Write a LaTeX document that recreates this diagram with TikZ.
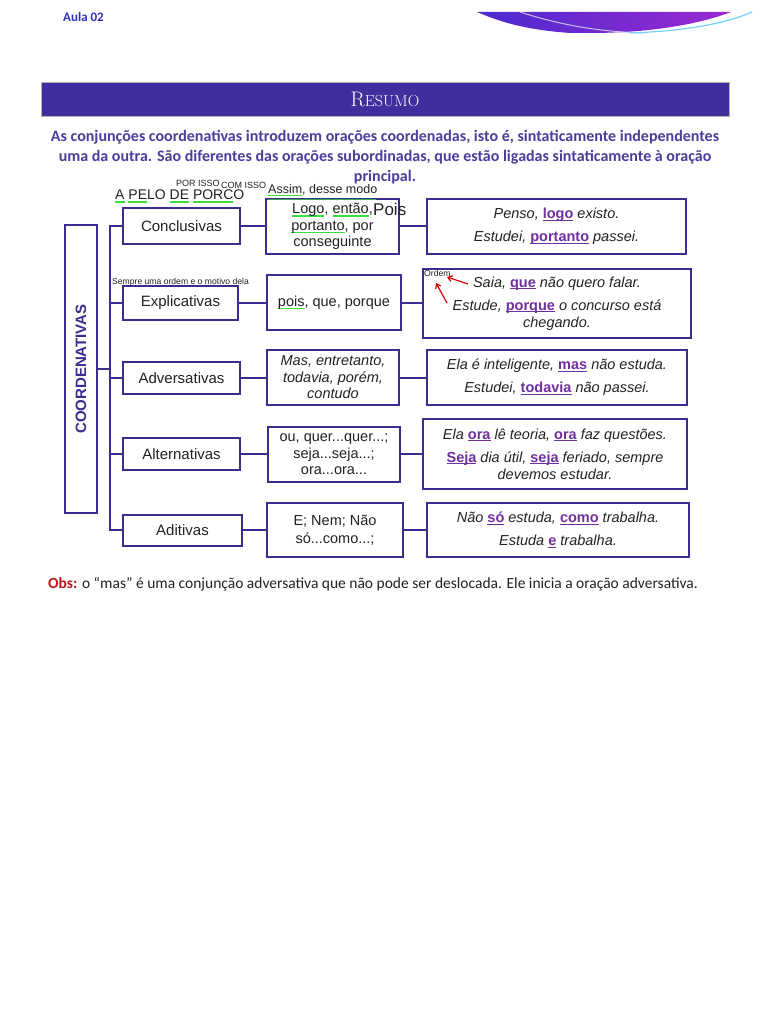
\documentclass[tikz,border=0pt]{standalone}
\usepackage{fontspec}
\setsansfont{Liberation Sans}
\newfontfamily\carl{Carlito}
\usetikzlibrary{arrows.meta}
\definecolor{lc}{HTML}{3B2C8E}
\definecolor{ban}{HTML}{3F2E9E}
\definecolor{intro}{HTML}{4E3B9C}
\definecolor{kwc}{HTML}{7030A0}
\definecolor{grn}{HTML}{3CDC3C}
\definecolor{obsred}{HTML}{C0141E}
\definecolor{aula}{HTML}{2F2FBF}
\definecolor{swl}{HTML}{4A2AD0}
\definecolor{swr}{HTML}{9A2AD0}
\definecolor{txt}{HTML}{222222}
\newsavebox\kwbox
\newsavebox\gulbox
\newcommand{\kw}[1]{\sbox\kwbox{\color{kwc}\bfseries\upshape #1}\rlap{\textcolor{kwc}{\rule[-2.2pt]{\wd\kwbox}{1pt}}}\usebox\kwbox}
\newcommand{\gul}[1]{\sbox\gulbox{#1}\rlap{\textcolor{grn}{\rule[-3pt]{\wd\gulbox}{1.6pt}}}\usebox\gulbox}
\begin{document}
\begin{tikzpicture}[x=1pt,y=-1pt,
  every node/.style={font=\sffamily,text=txt},
  frame/.style={draw=lc,line width=2pt,inner sep=0pt,align=center,fill=white},
  catbox/.style={frame,font=\sffamily\fontsize{15}{18}\selectfont},
  midbox/.style={frame,font=\sffamily\fontsize{14.5}{16.5}\selectfont},
  exbox/.style={frame,font=\sffamily\itshape\fontsize{14.5}{17}\selectfont},
  conn/.style={draw=lc,line width=2pt},
  note/.style={inner sep=0pt,anchor=base west},
  redarr/.style={draw=red!85!black,line width=1.2pt,-{Straight Barb[length=4pt,width=6pt]}}]
\useasboundingbox (0,0) rectangle (768,1024);
\fill[white] (0,0) rectangle (768,1024);
% header
\node[anchor=base west,inner sep=0pt,font=\carl\bfseries\fontsize{13}{13}\selectfont,text=aula] (aula) at (63,22) {Aula 02};
\shade[left color=swl,right color=swr] (477,12) -- (731,12) .. controls (700,24) and (650,33) .. (590,33) -- (570,33) .. controls (530,30) and (505,24) .. (477,12) -- cycle;
\draw[white!70!swl,line width=1pt] (520,12) .. controls (560,25) and (600,32) .. (645,33);
\draw[cyan!55!white,line width=1.2pt] (630,33) .. controls (690,31) and (730,22) .. (752,12);
% banner
\node[draw=gray!60,line width=0.6pt,fill=ban,minimum width=688pt,minimum height=34pt,inner sep=0pt] (banner) at (385,99) {};
\node[text=white,inner sep=0pt] (resumo) at (banner.center) {\rmfamily{\fontsize{21}{21}\selectfont R}{\fontsize{16}{16}\selectfont ESUMO}};
% intro
\node[align=center,inner sep=0pt,font=\carl\bfseries\fontsize{16}{20}\selectfont,text=intro] (intro) at (385,157.5)
 {As conjunções coordenativas introduzem orações coordenadas, isto é, sintaticamente independentes\\
  uma da outra. São diferentes das orações subordinadas, que estão ligadas sintaticamente à oração\\
  principal.};
% main box
\node[frame,minimum width=32pt,minimum height=288pt] (coord) at (81,369) {};
\node[rotate=90,inner sep=0pt,font=\sffamily\bfseries\fontsize{15}{15}\selectfont,text=lc] (coordt) at (coord.center) {COORDENATIVAS};
% categories
\node[catbox,minimum width=117pt,minimum height=35pt] (cat1) at (181.5,226) {Conclusivas};
\node[catbox,minimum width=115pt,minimum height=34pt] (cat2) at (180.5,303) {Explicativas};
\node[catbox,minimum width=117pt,minimum height=32pt] (cat3) at (181.5,378) {Adversativas};
\node[catbox,minimum width=117pt,minimum height=32pt] (cat4) at (181.5,454) {Alternativas};
\node[catbox,minimum width=119pt,minimum height=31pt] (cat5) at (182.5,530) {Aditivas};
% middle
\node[midbox,minimum width=133pt,minimum height=55pt] (mid1) at (332.5,226.5) {\gul{Logo}, \gul{então},\\ \gul{portanto}, por\\ conseguinte};
\node[midbox,minimum width=134pt,minimum height=55pt] (mid2) at (334,302.5) {\gul{pois}, que, porque};
\node[midbox,minimum width=132pt,minimum height=55pt,font=\sffamily\itshape\fontsize{14.5}{16.5}\selectfont] (mid3) at (333,377.5) {Mas, entretanto,\\ todavia, porém,\\ contudo};
\node[midbox,minimum width=132pt,minimum height=55pt] (mid4) at (334,454.5) {ou, quer...quer...;\\ seja...seja...;\\ ora...ora...};
\node[midbox,minimum width=136pt,minimum height=54pt,font=\sffamily\fontsize{14.5}{18}\selectfont] (mid5) at (335,530) {E; Nem; Não\\ só...como...;};
% examples
\node[exbox,minimum width=259pt,minimum height=55pt] (ex1) at (556.5,226.5) {Penso, \kw{logo} existo.\\[6pt] Estudei, \kw{portanto} passei.};
\node[exbox,minimum width=268pt,minimum height=69pt] (ex2) at (557,303.5) {Saia, \kw{que} não quero falar.\\[6pt] Estude, \kw{porque} o concurso está\\ chegando.};
\node[exbox,minimum width=260pt,minimum height=55pt] (ex3) at (557,377.5) {Ela é inteligente, \kw{mas} não estuda.\\[6pt] Estudei, \kw{todavia} não passei.};
\node[exbox,minimum width=264pt,minimum height=70pt] (ex4) at (555,454) {Ela \kw{ora} lê teoria, \kw{ora} faz questões.\\[6pt] \kw{Seja} dia útil, \kw{seja} feriado, sempre\\ devemos estudar.};
\node[exbox,minimum width=262pt,minimum height=54pt] (ex5) at (558,530) {Não \kw{só} estuda, \kw{como} trabalha.\\[6pt] Estuda \kw{e} trabalha.};
% connectors
\coordinate (trunk) at (110,0);
\draw[conn] (coord.east) -- (coord.east -| trunk);
\draw[conn] ([yshift=1pt]cat1.west -| trunk) -- ([yshift=-1pt]cat5.west -| trunk);
\foreach \i in {1,...,5}{
  \draw[conn] (cat\i.west -| trunk) -- (cat\i.west);
  \draw[conn] (cat\i.east) -- (cat\i.east -| mid\i.west);
  \draw[conn] (cat\i.east -| mid\i.east) -- (cat\i.east -| ex\i.west);
}
% annotations
\node[note,font=\sffamily\fontsize{14}{14}\selectfont] (pelo) at (115,200) {\gul{A} \gul{PE}LO \gul{DE} \gul{PORC}O};
\node[note,font=\sffamily\fontsize{9}{9}\selectfont] (porisso) at (176,186.5) {POR ISSO};
\node[note,font=\sffamily\fontsize{9}{9}\selectfont] (comisso) at (221,188.5) {COM ISSO};
\node[note,font=\sffamily\fontsize{12.5}{12.5}\selectfont] (assim) at (268,193.5) {\gul{Assim}, desse modo};
\draw[grn!70!lc,line width=1.2pt] (268,199.5) -- (376,199.5);
\node[note,font=\sffamily\fontsize{17}{17}\selectfont] (pois) at (373,216) {Pois};
\node[note,font=\sffamily\fontsize{8.6}{8.6}\selectfont] (sempre) at (112,284) {Sempre uma ordem e o motivo dela};
\node[note,font=\sffamily\fontsize{8.6}{8.6}\selectfont] (ordem) at (424,276) {Ordem};
\coordinate (a1s) at (468,284);
\coordinate (a1e) at (447,277);
\coordinate (a2s) at (447,303);
\coordinate (a2e) at (436,283);
\draw[redarr] (a1s) -- (a1e);
\draw[redarr] (a2s) -- (a2e);
% obs
\node[note,font=\carl\fontsize{15.5}{15.5}\selectfont] (obs) at (48,588) {\textcolor{obsred}{\bfseries Obs:} o “mas” é uma conjunção adversativa que não pode ser deslocada. Ele inicia a oração adversativa.};
\end{tikzpicture}
\end{document}
